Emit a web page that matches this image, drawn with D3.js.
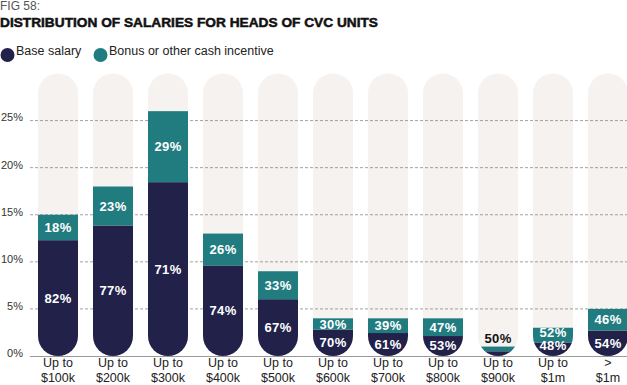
<!DOCTYPE html>
<html>
<head>
<meta charset="utf-8">
<script src="https://cdn.jsdelivr.net/npm/d3@7"></script>
<style>
body{margin:0;background:#fff;}
svg{display:block;font-family:"Liberation Sans",Arial,sans-serif;}
</style>
</head>
<body>
<svg id="chart" width="627" height="385"></svg>
<script>
'use strict';
// data
var categories = [['Up to','$100k'],['Up to','$200k'],['Up to','$300k'],['Up to','$400k'],['Up to','$500k'],
	['Up to','$600k'],['Up to','$700k'],['Up to','$800k'],['Up to','$900k'],['Up to','$1m'],['>','$1m']];
var totals = [15, 18, 26, 13, 9, 4, 4, 4, 1, 3, 5];      // % of respondents
var baseShare = [82, 77, 71, 74, 67, 70, 61, 53, 50, 48, 54];
var bonusShare = [18, 23, 29, 26, 33, 30, 39, 47, 50, 52, 46];
var yTicks = [0, 5, 10, 15, 20, 25];
var yMax = 30;

var navy = '#22214a', teal = '#217c80', track = '#f5f2ef';

var svg = d3.select('#chart');

// title + legend
svg.append('text').attr('x',0).attr('y',10).text('FIG 58:')
	.style('font-size','12px').style('fill','#555');
svg.append('text').attr('x',0).attr('y',27).text('DISTRIBUTION OF SALARIES FOR HEADS OF CVC UNITS')
	.attr('textLength',378).attr('lengthAdjust','spacingAndGlyphs')
	.style('font-size','13px').style('font-weight','900').style('fill','#111')
	.style('stroke','#111').style('stroke-width','0.5px');

var legend = [{label:'Base salary',color:navy,x:7.5},{label:'Bonus or other cash incentive',color:teal,x:100.5}];
var lg = svg.append('g').attr('id','legend').selectAll('g').data(legend).enter().append('g');
lg.append('circle').attr('cx',d=>d.x).attr('cy',55).attr('r',7).style('fill',d=>d.color);
lg.append('text').attr('x',d=>d.x+8.5).attr('y',55).text(d=>d.label)
	.style('font-size','12.5px').style('fill','#222');

// scales
var x = d3.scaleBand().domain(d3.range(categories.length)).range([38, 628])
	.paddingInner(15/55).paddingOuter(0);
var y = d3.scaleLinear().domain([0, yMax]).range([356, 73.5]);
var bw = x.bandwidth(), r = bw/2;

var rows = d3.range(categories.length).map(function(i){
	return {i:i, total:totals[i], base:totals[i]*baseShare[i]/100, bonus:totals[i]*bonusShare[i]/100,
		baseShare:baseShare[i], bonusShare:bonusShare[i]};
});

// background tracks + clip paths
var defs = svg.append('defs');
defs.selectAll('clipPath').data(rows).enter().append('clipPath')
	.attr('id',d=>'clip'+d.i)
	.append('rect').attr('x',d=>x(d.i)).attr('y',y(yMax)).attr('width',bw)
	.attr('height',y(0)-y(yMax)).attr('rx',r).attr('ry',r);

svg.append('g').attr('id','tracks').selectAll('rect').data(rows).enter().append('rect')
	.attr('x',d=>x(d.i)).attr('y',y(yMax)).attr('width',bw)
	.attr('height',y(0)-y(yMax)).attr('rx',r).attr('ry',r).style('fill',track);

// grid + y labels
var grid = svg.append('g').attr('id','grid');
grid.selectAll('line').data(yTicks.filter(t=>t>0)).enter().append('line')
	.attr('x1',30).attr('x2',627).attr('y1',d=>y(d)).attr('y2',d=>y(d))
	.style('stroke','#8a8a8a').style('stroke-width','0.8px').style('stroke-dasharray','3,2');
grid.selectAll('text').data(yTicks).enter().append('text')
	.attr('x',23).attr('y',d=>y(d)-3).attr('dy','0.35em').attr('text-anchor','end')
	.text(d=>d+'%').style('font-size','11px').style('fill','#333');

// stacked bars
var bars = svg.append('g').attr('id','bars').selectAll('g').data(rows).enter().append('g')
	.attr('clip-path',d=>'url(#clip'+d.i+')');
bars.append('rect').attr('x',d=>x(d.i)).attr('width',bw)
	.attr('y',d=>y(d.base)).attr('height',d=>y(0)-y(d.base)).style('fill',navy);
bars.append('rect').attr('x',d=>x(d.i)).attr('width',bw)
	.attr('y',d=>y(d.total)).attr('height',d=>y(d.base)-y(d.total)).style('fill',teal);

// axis line
svg.append('line').attr('x1',30).attr('x2',627).attr('y1',356.5).attr('y2',356.5)
	.style('stroke','#999').style('stroke-width','1px');

// value labels
var labels = svg.append('g').attr('id','labels');
rows.forEach(function(d){
	var cx = x(d.i)+bw/2;
	var lab = function(yy,txt,col){
		labels.append('text').attr('x',cx).attr('y',yy).attr('dy','0.36em').attr('text-anchor','middle')
			.text(txt+'%').style('font-size','13px').style('font-weight','bold')
			.style('letter-spacing','0.4px').style('fill',col);
	};
	if (y(0)-y(d.total) < 14){
		lab(y(d.total)-8, d.bonusShare, '#111');
		return;
	}
	var yb = Math.min((y(0)+y(d.base))/2, y(0)-10.5);
	lab(yb, d.baseShare, '#fff');
	lab(Math.min((y(d.base)+y(d.total))/2, yb-13.5), d.bonusShare, '#fff');
});

// x labels
var xl = svg.append('g').attr('id','xlabels').selectAll('text').data(rows).enter().append('text')
	.attr('text-anchor','middle').style('font-size','12.5px').style('fill','#222');
xl.append('tspan').attr('x',d=>x(d.i)+bw/2).attr('y',366.5).text(d=>categories[d.i][0]);
xl.append('tspan').attr('x',d=>x(d.i)+bw/2).attr('y',382).text(d=>categories[d.i][1]);
</script>
</body>
</html>
